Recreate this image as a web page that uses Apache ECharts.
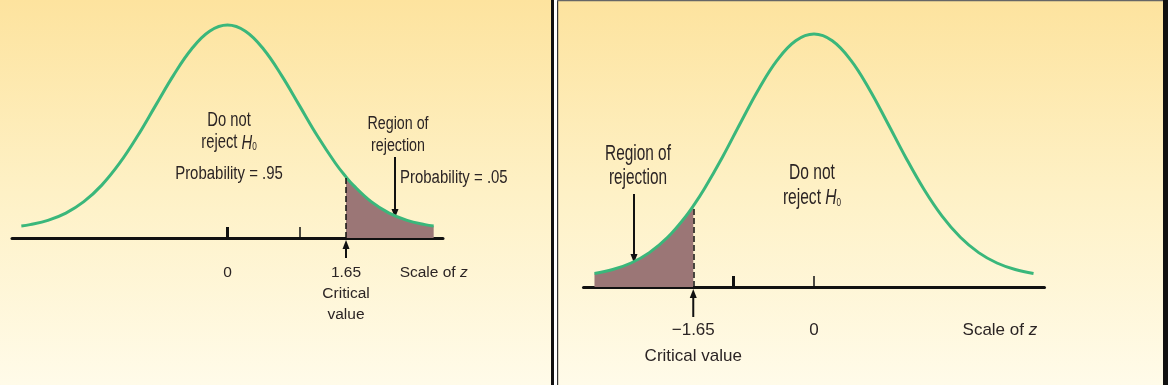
<!DOCTYPE html>
<html>
<head>
<meta charset="utf-8">
<script src="https://cdn.jsdelivr.net/npm/echarts@6/dist/echarts.min.js"></script>
<style>
html, body { margin: 0; padding: 0; background: #fff; }
#chart { width: 1168px; height: 385px; }
</style>
</head>
<body>
<div id="chart"></div>
<script>
// left panel: one-tailed test, rejection region on the right
var leftZ = [-2.87, -2.75, -2.5, -2.25, -2, -1.75, -1.5, -1.25, -1, -0.75, -0.5, -0.25, 0,
             0.25, 0.5, 0.75, 1, 1.25, 1.5, 1.65, 1.75, 2, 2.25, 2.5, 2.75, 2.87];
var leftY = [0.0065, 0.0091, 0.0175, 0.0317, 0.0540, 0.0863, 0.1295, 0.1826, 0.2420, 0.3011, 0.3521, 0.3867, 0.3989,
             0.3867, 0.3521, 0.3011, 0.2420, 0.1826, 0.1295, 0.1023, 0.0863, 0.0540, 0.0317, 0.0175, 0.0091, 0.0065];
var leftCritical = 1.65;
var leftTicks = [0, 1];
var leftLabels = [0, 1.65, 2.87];

// right panel: one-tailed test, rejection region on the left
var rightZ = [-3, -2.75, -2.5, -2.25, -2, -1.75, -1.65, -1.5, -1.25, -1, -0.75, -0.5, -0.25, 0,
              0.25, 0.5, 0.75, 1, 1.25, 1.5, 1.75, 2, 2.25, 2.5, 2.75, 3];
var rightY = [0.0070, 0.0134, 0.0241, 0.0411, 0.0662, 0.1008, 0.1174, 0.1452, 0.1977, 0.2546, 0.3099, 0.3566, 0.3880, 0.3990,
              0.3880, 0.3566, 0.3099, 0.2546, 0.1977, 0.1452, 0.1008, 0.0662, 0.0411, 0.0241, 0.0134, 0.0070];
var rightCritical = -1.65;
var rightTicks = [-1.1, 0];
var rightLabels = [-1.65, 0, 2.54];

var GREEN = '#3ab77b';
var SHADE = '#9b7676';
var INK = '#2b2424';
var FONT = '"Liberation Sans Narrow", "Arial Narrow", "Liberation Sans", sans-serif';

function zip(xs, ys) {
    var out = [];
    for (var i = 0; i < xs.length; i++) out.push([xs[i], ys[i]]);
    return out;
}

function tail(xs, ys, crit, upper) {
    var out = [];
    for (var i = 0; i < xs.length; i++) {
        if ((upper && xs[i] >= crit) || (!upper && xs[i] <= crit)) out.push([xs[i], ys[i]]);
    }
    return out;
}

function xAxisMain(grid, min, max, ticks, labels, size, margin, lh, fmt) {
    return {
        type: 'value', gridIndex: grid, min: min, max: max, position: 'bottom',
        axisLine: { show: true, onZero: false, lineStyle: { color: '#111', width: 3 } },
        axisTick: { show: true, inside: true, length: 11, customValues: ticks, lineStyle: { color: '#111', width: 1.5 } },
        splitLine: { show: false },
        axisLabel: {
            show: true, customValues: labels, margin: margin, color: INK,
            fontFamily: FONT, fontSize: size, lineHeight: lh, hideOverlap: false,
            formatter: fmt,
            rich: { i: { fontFamily: FONT, fontSize: size, fontStyle: 'italic', color: INK, lineHeight: lh } }
        }
    };
}

function xAxisThick(grid, min, max, tick) {
    return {
        type: 'value', gridIndex: grid, min: min, max: max, position: 'bottom',
        axisLine: { show: false, onZero: false },
        axisTick: { show: true, inside: true, length: 11, customValues: [tick], lineStyle: { color: '#111', width: 3 } },
        axisLabel: { show: false },
        splitLine: { show: false }
    };
}

var myChart = echarts.init(document.getElementById('chart'));

var option = {
    animation: false,
    grid: [
        { left: 12, width: 431, top: 25, height: 213 },
        { left: 583.5, width: 461, top: 34, height: 253 }
    ],
    xAxis: [
        xAxisMain(0, -3, 3, [1], leftLabels, 15.5, 24, 21, function (v) {
            if (v === 0) return '0';
            if (v === 1.65) return '1.65\nCritical\nvalue';
            return 'Scale of {i|z}';
        }),
        xAxisThick(0, -3, 3, 0),
        xAxisMain(1, -3.15, 3.15, [0], rightLabels, 17, 30, 26, function (v) {
            if (v === 0) return '0';
            if (v === -1.65) return '\u22121.65\nCritical value';
            return 'Scale of {i|z}';
        }),
        xAxisThick(1, -3.15, 3.15, -1.1)
    ],
    yAxis: [
        { type: 'value', gridIndex: 0, min: -0.017, max: 0.399, show: false },
        { type: 'value', gridIndex: 1, min: -0.0152, max: 0.399, show: false }
    ],
    series: [
        {
            type: 'line', xAxisIndex: 0, yAxisIndex: 0, z: 2, clip: false,
            data: tail(leftZ, leftY, leftCritical, true),
            smooth: 0.4, showSymbol: false, symbol: 'none',
            lineStyle: { width: 0 },
            areaStyle: { color: SHADE, opacity: 1, origin: 'start' }
        },
        {
            type: 'line', xAxisIndex: 0, yAxisIndex: 0, z: 4, clip: false,
            data: zip(leftZ, leftY),
            smooth: 0.4, showSymbol: false, symbol: 'none',
            lineStyle: { color: GREEN, width: 3 },
            markLine: {
                silent: true, symbol: 'none', animation: false,
                lineStyle: { color: '#111', width: 1.5, type: [6, 3] },
                label: { show: false },
                data: [[{ coord: [leftCritical, -0.017] }, { coord: [leftCritical, leftY[leftZ.indexOf(leftCritical)]] }]]
            }
        },
        {
            type: 'line', xAxisIndex: 2, yAxisIndex: 1, z: 2, clip: false,
            data: tail(rightZ, rightY, rightCritical, false),
            smooth: 0.4, showSymbol: false, symbol: 'none',
            lineStyle: { width: 0 },
            areaStyle: { color: SHADE, opacity: 1, origin: 'start' }
        },
        {
            type: 'line', xAxisIndex: 2, yAxisIndex: 1, z: 4, clip: false,
            data: zip(rightZ, rightY),
            smooth: 0.4, showSymbol: false, symbol: 'none',
            lineStyle: { color: GREEN, width: 3 },
            markLine: {
                silent: true, symbol: 'none', animation: false,
                lineStyle: { color: '#111', width: 1.5, type: [6, 3] },
                label: { show: false },
                data: [[{ coord: [rightCritical, -0.0152] }, { coord: [rightCritical, rightY[rightZ.indexOf(rightCritical)]] }]]
            }
        }
    ]
};
myChart.setOption(option);

// annotations (text and arrows) drawn with the graphic component
function txt(text, x, y, size, sx, sy, align) {
    return {
        type: 'text', x: x, y: y, scaleX: sx, scaleY: sy, z: 20,
        style: {
            text: text, fill: INK, fontFamily: FONT, fontSize: size,
            align: align || 'center', verticalAlign: 'middle',
            rich: {
                i: { fontFamily: FONT, fontSize: size, fontStyle: 'italic', fill: INK },
                s: { fontFamily: FONT, fontSize: Math.round(size * 0.55), fill: INK, padding: [Math.round(size * 0.45), 0, 0, 0] }
            }
        }
    };
}

function arrow(x, y1, y2) {
    var dir = y2 > y1 ? 1 : -1;
    var head = 9;
    return {
        type: 'group', z: 20,
        children: [
            { type: 'line', shape: { x1: x, y1: y1, x2: x, y2: y2 - dir * head }, style: { stroke: '#111', lineWidth: 2 } },
            { type: 'polygon', shape: { points: [[x - 3.5, y2 - dir * head], [x + 3.5, y2 - dir * head], [x, y2]] }, style: { fill: '#111' } }
        ]
    };
}

function panelBg(x, w) {
    return {
        type: 'rect', z: -10, silent: true,
        shape: { x: x, y: 0, width: w, height: 385 },
        style: {
            fill: new echarts.graphic.LinearGradient(0, 0, 0, 1, [
                { offset: 0, color: '#fde39e' },
                { offset: 0.5, color: '#fef1c6' },
                { offset: 1, color: '#fffbe9' }
            ])
        }
    };
}

var lx = myChart.convertToPixel({ xAxisIndex: 0 }, leftCritical);
var rx = myChart.convertToPixel({ xAxisIndex: 2 }, rightCritical);

myChart.setOption({
    graphic: [
        panelBg(0, 551),
        panelBg(558, 605),
        { type: 'rect', z: -5, shape: { x: 551, y: 0, width: 3, height: 385 }, style: { fill: '#111' } },
        { type: 'rect', z: -5, shape: { x: 557, y: 0, width: 1.2, height: 385 }, style: { fill: '#333' } },
        { type: 'rect', z: -5, shape: { x: 557, y: 0, width: 606, height: 1.2 }, style: { fill: '#666' } },
        { type: 'rect', z: -5, shape: { x: 1163, y: 0, width: 5, height: 385 }, style: { fill: '#111' } },

        // left panel
        txt('Do not', 229, 121, 18, 0.82, 1.1),
        txt('reject {i|H}{s|0}', 229, 143, 18, 0.82, 1.1),
        txt('Probability = .95', 229, 174, 17, 0.88, 1.05),
        txt('Region of', 398, 124, 17, 0.84, 1.1),
        txt('rejection', 398, 146, 17, 0.84, 1.1),
        txt('Probability = .05', 400, 178, 17, 0.88, 1.05, 'left'),
        arrow(395, 157, 218),
        arrow(lx, 258, 240),

        // right panel
        txt('Region of', 638, 154, 19, 0.81, 1.12),
        txt('rejection', 638, 178, 19, 0.81, 1.12),
        txt('Do not', 812, 173, 19, 0.82, 1.12),
        txt('reject {i|H}{s|0}', 812, 198, 19, 0.82, 1.12),
        arrow(634, 194, 263),
        arrow(rx, 317, 289)
    ]
});
</script>
</body>
</html>
